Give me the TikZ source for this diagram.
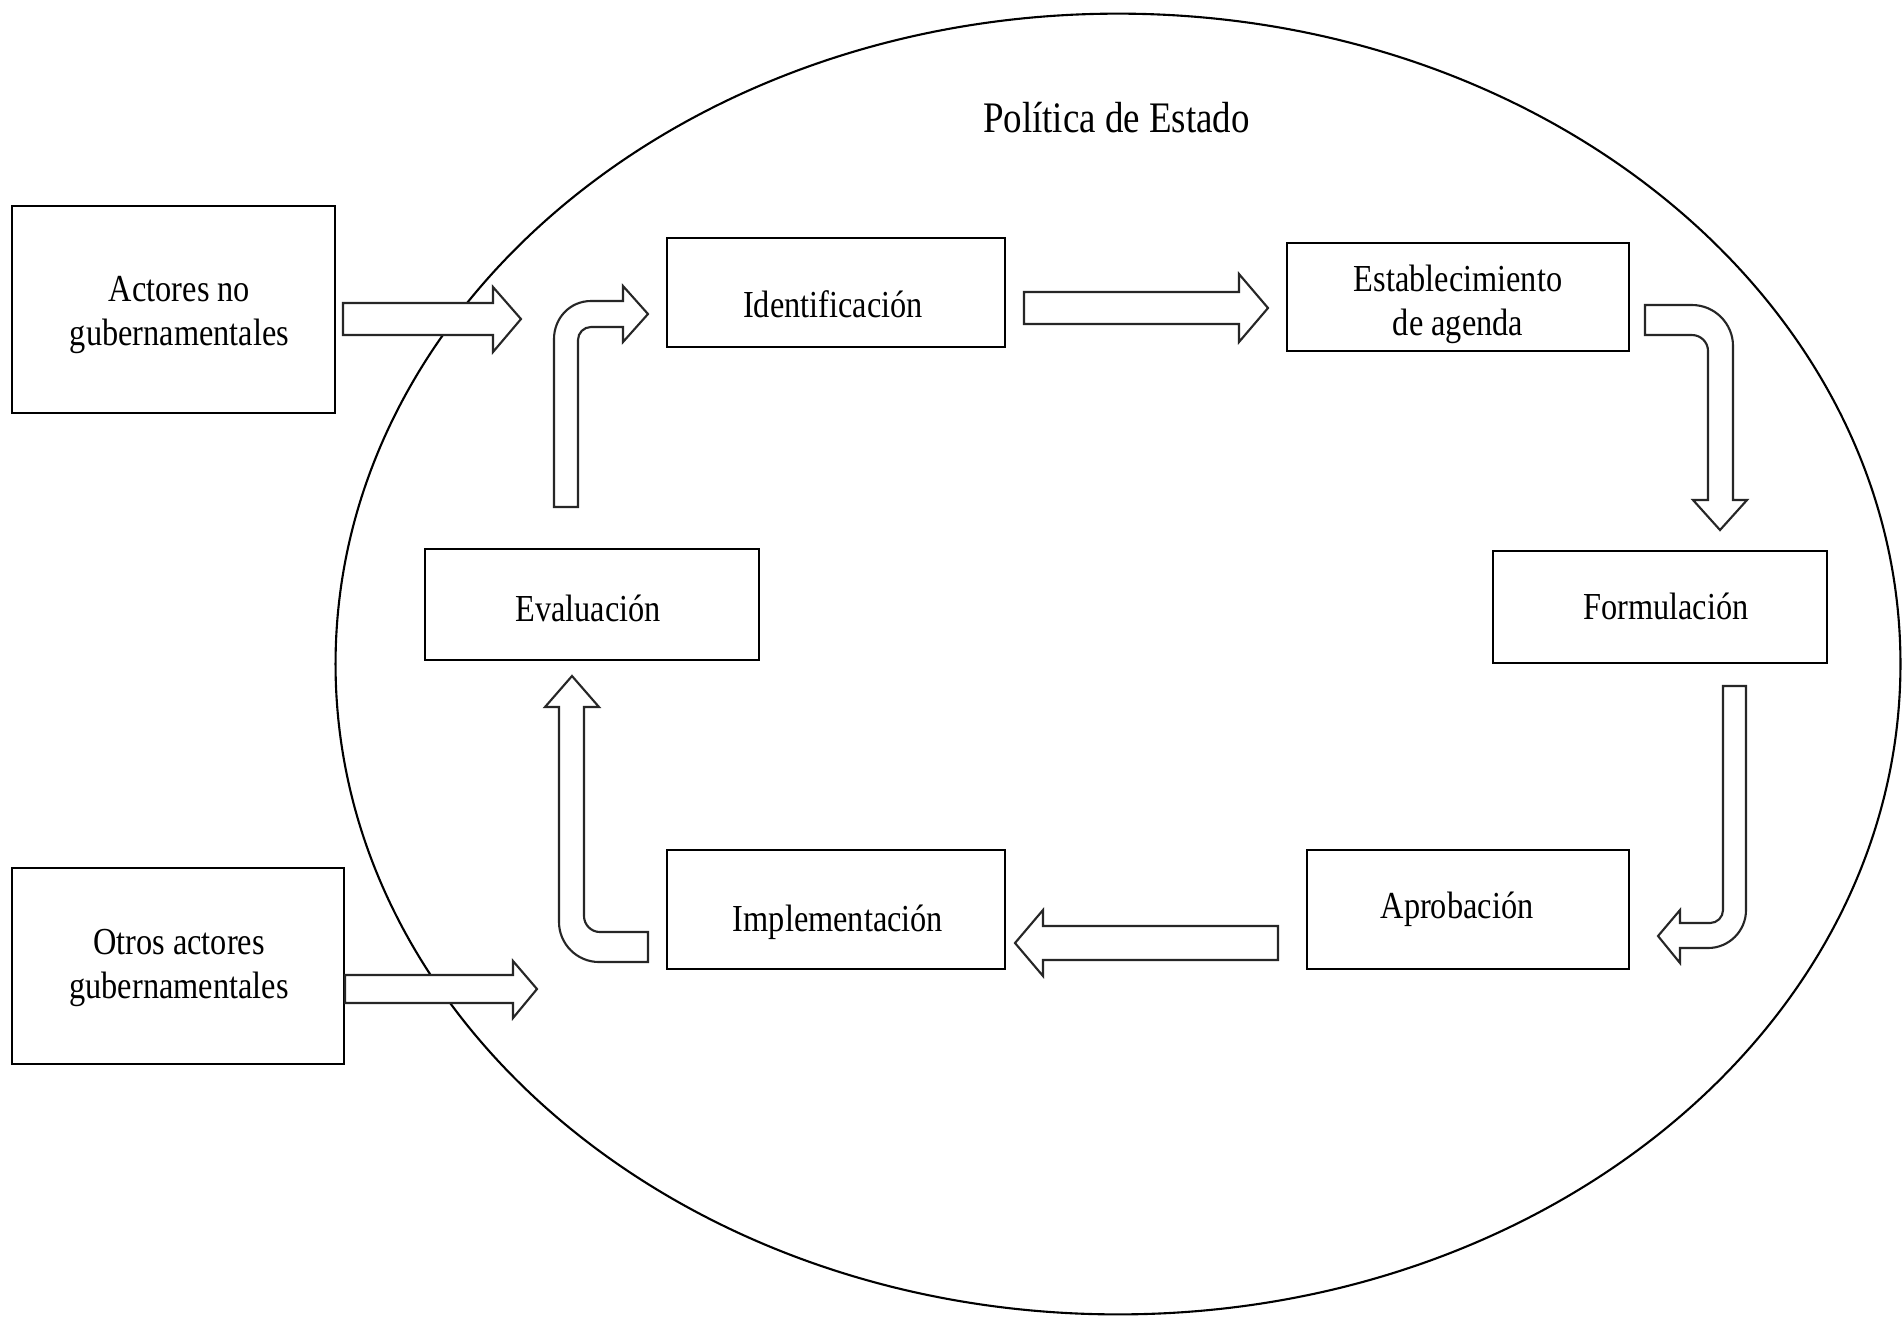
\documentclass[tikz,border=0pt]{standalone}
\usepackage{fontspec}
\setmainfont{Liberation Serif}
\usepackage{graphicx}
\newcommand{\stx}[1]{\scalebox{1}[1.18]{\begin{tabular}{@{}c@{}}#1\end{tabular}}}
\begin{document}
\begin{tikzpicture}[x=0.01cm,y=-0.01cm,
  boxn/.style={draw=black, line width=0.6pt, inner sep=0pt},
  txt/.style={inner sep=0pt, align=center, font=\fontsize{9.2}{10.6}\selectfont},
  blockarrow/.style={draw=black!85, line width=0.6pt, fill=white, line join=miter}]
\useasboundingbox (0,0) rectangle (1903,1317);
\fill[white] (0,0) rectangle (1903,1317);
% State policy ellipse
\draw[line width=0.6pt] (1118,664) ellipse [x radius=7.82cm, y radius=6.5cm];
\node[anchor=base, inner sep=0pt, font=\fontsize{10.5}{10.5}\selectfont] (title) at (1116.5,135) {\stx{Política de Estado}};
% boxes
\node[boxn, minimum width=3.23cm, minimum height=2.07cm] (act) at (173.5,309.5) {};
\node[boxn, minimum width=3.32cm, minimum height=1.96cm] (otr) at (178,966) {};
\node[boxn, minimum width=3.38cm, minimum height=1.09cm] (ide) at (836,292.5) {};
\node[boxn, minimum width=3.42cm, minimum height=1.08cm] (est) at (1458,297) {};
\node[boxn, minimum width=3.34cm, minimum height=1.12cm] (for) at (1660,607) {};
\node[boxn, minimum width=3.34cm, minimum height=1.11cm] (eva) at (592,604.5) {};
\node[boxn, minimum width=3.38cm, minimum height=1.19cm] (imp) at (836,909.5) {};
\node[boxn, minimum width=3.22cm, minimum height=1.19cm] (apr) at (1468,909.5) {};
% box texts
\node[txt] (act-t) at ([shift={(6,5)}]act.center) {\stx{Actores no\\gubernamentales}};
\node[txt] (otr-t) at ([shift={(1,2)}]otr.center) {\stx{Otros actores\\gubernamentales}};
\node[txt] (ide-t) at ([shift={(-3,16)}]ide.center) {\stx{Identificación}};
\node[txt] (est-t) at ([shift={(0,8)}]est.center) {\stx{Establecimiento\\de agenda}};
\node[txt] (for-t) at ([shift={(6,4)}]for.center) {\stx{Formulación}};
\node[txt] (eva-t) at ([shift={(-4,8)}]eva.center) {\stx{Evaluación}};
\node[txt] (imp-t) at ([shift={(2,13)}]imp.center) {\stx{Implementación}};
\node[txt] (apr-t) at ([shift={(-11,0)}]apr.center) {\stx{Aprobación}};
% straight block arrows
\draw[blockarrow] (343,303) -- (493,303) -- (493,287) -- (521,319) -- (493,352) -- (493,335) -- (343,335) -- cycle;
\draw[blockarrow] (345,975) -- (513,975) -- (513,961) -- (537,989) -- (513,1018) -- (513,1003) -- (345,1003) -- cycle;
\draw[blockarrow] (1024,292) -- (1239,292) -- (1239,274) -- (1268,308) -- (1239,342) -- (1239,324) -- (1024,324) -- cycle;
\draw[blockarrow] (1278,926) -- (1043,926) -- (1043,910) -- (1015,943) -- (1043,976) -- (1043,960) -- (1278,960) -- cycle;
% bent block arrows
% Evaluacion -> Identificacion
\draw[blockarrow] (554,507) -- (554,339) .. controls (554,318) and (570,301) .. (591,301) -- (623,301) -- (623,286) -- (648,314) -- (623,342) -- (623,327) -- (591,327) .. controls (583.8,327) and (578,332.8) .. (578,340) -- (578,507) -- cycle;
% Establecimiento -> Formulacion
\draw[blockarrow] (1645,305) -- (1692,305) .. controls (1714.6,305) and (1733,323.4) .. (1733,346) -- (1733,500) -- (1747,500) -- (1720,530) -- (1693,500) -- (1708,500) -- (1708,351) .. controls (1708,342.2) and (1700.8,335) .. (1692,335) -- (1645,335) -- cycle;
% Formulacion -> Aprobacion
\draw[blockarrow] (1723,686) -- (1746,686) -- (1746,910) .. controls (1746,931) and (1729,948) .. (1708,948) -- (1680,948) -- (1680,963) -- (1658,936) -- (1680,910) -- (1680,923) -- (1710,923) .. controls (1717.2,923) and (1723,917.2) .. (1723,910) -- cycle;
% Implementacion -> Evaluacion
\draw[blockarrow] (648,932) -- (648,962) -- (599,962) .. controls (577,962) and (559,944) .. (559,922) -- (559,707) -- (545,707) -- (572,676) -- (599,707) -- (584,707) -- (584,916) .. controls (584,924.8) and (591.2,932) .. (600,932) -- cycle;
\end{tikzpicture}
\end{document}
